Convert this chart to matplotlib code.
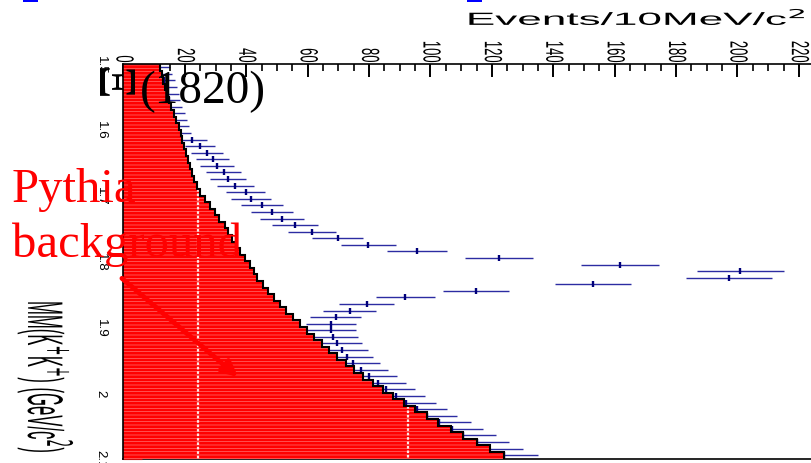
import numpy as np
import matplotlib
matplotlib.use("Agg")
import matplotlib.pyplot as plt
from matplotlib import patheffects
from matplotlib.transforms import Affine2D
from matplotlib.ticker import MultipleLocator, FixedLocator
from matplotlib.patches import Rectangle

# ---- data: missing mass MM(K+K+) in 10 MeV bins from 1.5 to 2.1 GeV/c^2 ----
mm_edges = np.round(np.arange(1.50, 2.1001, 0.01), 3)

data_counts = [11.7, 12.2, 13.1, 13.6, 14.3, 14.7, 15.3, 16.0, 16.5, 17.2,
               17.9, 22.4, 24.9, 27.3, 29.0, 30.6, 32.7, 34.0, 36.4, 39.8,
               41.5, 45.1, 48.4, 51.7, 56.0, 61.5, 69.8, 79.7, 95.5, 122.4,
               161.7, 200.9, 197.3, 152.8, 114.8, 91.8, 79.2, 73.7, 69.2, 67.6,
               67.5, 68.2, 69.4, 71.2, 72.7, 74.9, 77.3, 80.0, 82.8, 85.6,
               88.8, 92.1, 95.7, 98.8, 102.9, 106.9, 110.7, 115.0, 119.2, 123.9]

pythia_bkg = [12.0, 12.5, 13.0, 13.6, 14.2, 14.8, 15.6, 16.4, 17.2, 18.0,
              18.6, 19.2, 19.8, 20.3, 20.9, 21.6, 22.3, 23.0, 24.0, 25.0,
              26.7, 28.2, 29.8, 31.1, 33.0, 34.1, 35.3, 36.7, 38.0, 39.7,
              41.2, 42.5, 43.4, 45.3, 47.2, 49.0, 51.0, 52.9, 55.1, 57.5,
              59.7, 62.1, 64.5, 67.0, 69.6, 72.5, 75.2, 78.1, 81.2, 84.4,
              87.9, 91.4, 95.0, 99.0, 102.5, 106.6, 110.7, 115.0, 119.4, 123.9]

count_ticks = [0, 20, 40, 60, 80, 100, 120, 140, 160, 180, 200, 220]
mm_ticks = [1.5, 1.6, 1.7, 1.8, 1.9, 2.0, 2.1]
mm_tick_labels = ["1.5", "1.6", "1.7", "1.8", "1.9", "2", "2.1"]
seam_levels = [24.2, 92.7]


class HStretch(patheffects.AbstractPathEffect):
    """Draw text glyphs stretched horizontally on screen."""

    def __init__(self, sx, anchor="center"):
        super().__init__()
        self.sx = sx
        self.anchor = anchor

    def draw_path(self, renderer, gc, tpath, affine, rgbFace=None):
        ext = tpath.get_extents(affine)
        if self.anchor == "left":
            x0 = ext.x0
        elif self.anchor == "right":
            x0 = ext.x1
        else:
            x0 = 0.5 * (ext.x0 + ext.x1)
        a = affine + Affine2D().translate(-x0, 0).scale(self.sx, 1).translate(x0, 0)
        renderer.draw_path(gc, tpath, a, rgbFace)


W, H = 812, 464
fig = plt.figure(figsize=(W / 100, H / 100), dpi=100)
left_px, right_px, top_px, bottom_px = 123.5, 812, 65, 459.5
ax = fig.add_axes([left_px / W, 1 - bottom_px / H,
                   (right_px - left_px) / W, (bottom_px - top_px) / H])

sans = "Liberation Sans"
serif = "Liberation Serif"

data = np.asarray(data_counts)
bkg = np.asarray(pythia_bkg)
centers = 0.5 * (mm_edges[:-1] + mm_edges[1:])

# data points with statistical errors
ax.errorbar(data, centers, xerr=np.sqrt(data), fmt="none",
            ecolor="#2c2ca2", elinewidth=1.0, capsize=0, zorder=1.5)
ax.plot(data, centers, ls="none", marker="|", ms=5, mew=1.7,
        color="#00007a", zorder=1.6)

# Pythia background histogram
plt.rcParams["hatch.linewidth"] = 0.45
ax.stairs(bkg, mm_edges, orientation="horizontal", fill=True,
          facecolor="#ff0000", edgecolor="#ff7a7a", linewidth=0,
          hatch="-----", zorder=2)
ax.stairs(bkg, mm_edges, orientation="horizontal", baseline=None,
          fill=False, color="black", linewidth=1.5, zorder=2.2)

# light seams inside the filled area
for lvl in seam_levels:
    first = int(np.argmax(bkg >= lvl))
    ax.vlines(lvl, mm_edges[first], mm_edges[-1], colors="#ffe6e6",
              linewidth=1.6, linestyles=(0, (1.2, 0.8)), zorder=2.1)

ax.set_xlim(0, (right_px - left_px) / 3.07)
ax.set_ylim(2.1, 1.5)

# axes styling
ax.spines["right"].set_visible(False)
for side in ("top", "left", "bottom"):
    ax.spines[side].set_linewidth(1.2)
    ax.spines[side].set_zorder(2.5)
ax.spines["bottom"].set_zorder(1.0)

ax.xaxis.set_ticks_position("top")
ax.xaxis.set_major_locator(FixedLocator(count_ticks))
ax.xaxis.set_minor_locator(MultipleLocator(5))
ax.tick_params(axis="x", which="major", direction="in", length=9.4, width=1.4,
               labelsize=9.4, pad=1.0, labelrotation=-90)
ax.tick_params(axis="x", which="minor", direction="in", length=5, width=1.2)

ax.set_yticks(mm_ticks)
ax.set_yticklabels(mm_tick_labels)
ax.yaxis.set_minor_locator(MultipleLocator(0.02))
ax.tick_params(axis="y", which="major", direction="in", length=14, width=0.8,
               color="#c81010", labelsize=9.6, pad=12, labelrotation=-90)
ax.tick_params(axis="y", which="minor", direction="in", length=7, width=0.8,
               color="#c81010")

for lbl in ax.get_xticklabels():
    lbl.set_fontfamily(sans)
    lbl.set_path_effects([HStretch(1.9)])
for lbl in ax.get_yticklabels():
    lbl.set_fontfamily(sans)
    lbl.set_va("center")

# axis titles
fig.text(468 / W, 1 - 26 / H, "Events/10MeV/c$^{2}$", fontsize=12.7,
         family=sans, ha="left", va="baseline",
         path_effects=[HStretch(2.5, anchor="left")])
fig.text(46 / W, 1 - 302 / H, "MM(K$^{+}$K$^{+}$) (GeV/c$^{2}$)", fontsize=12,
         family=sans, rotation=-90, ha="center", va="top",
         path_effects=[HStretch(3.0)])

# annotations
fig.text(109 / W, 1 - 84 / H, "Ξ", fontsize=38, family=serif, rotation=-90,
         ha="center", va="center", color="black", zorder=5)
fig.text(140 / W, 1 - 103 / H, "(1820)", fontsize=34, family=serif,
         ha="left", va="baseline", color="black", zorder=5)
fig.text(12 / W, 1 - 202 / H, "Pythia", fontsize=35, family=serif,
         ha="left", va="baseline", color="red", zorder=5)
fig.text(12 / W, 1 - 257 / H, "background", fontsize=35, family=serif,
         ha="left", va="baseline", color="red", zorder=5)

ax.annotate("", xy=(37.3, 1.976), xytext=(-0.5, 1.826),
            xycoords="data", textcoords="data", annotation_clip=False,
            arrowprops=dict(arrowstyle="-|>,head_length=0.9,head_width=0.45",
                            color="red", lw=3.5, shrinkA=0, shrinkB=0),
            zorder=5)

# small blue marks along the upper edge
for x0, x1 in ((23, 38), (467, 482)):
    fig.add_artist(Rectangle((x0 / W, 1 - 2.5 / H), (x1 - x0) / W, 2.5 / H,
                             transform=fig.transFigure, color="#0000ff",
                             lw=0))

fig.savefig("out.png", dpi=100)
